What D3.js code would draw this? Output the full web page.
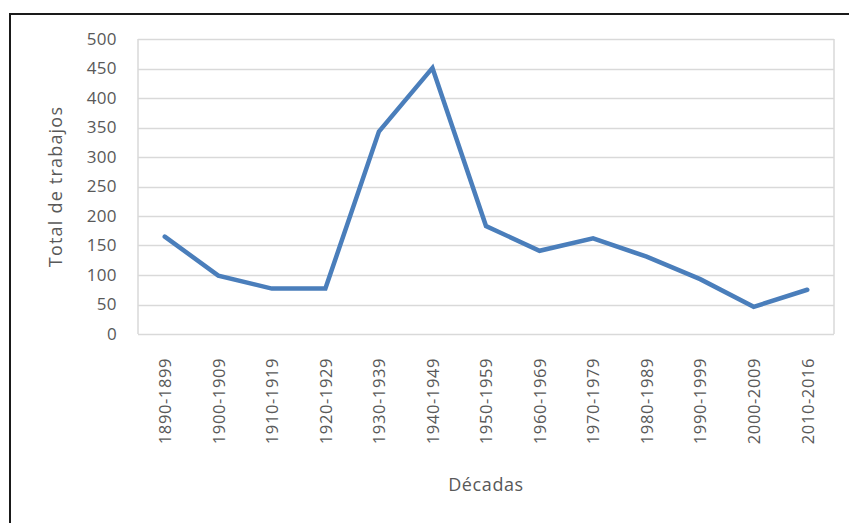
<!DOCTYPE html>
<html>
<head>
<meta charset="utf-8">
<script src="https://cdn.jsdelivr.net/npm/d3@7"></script>
<style>
  body { margin: 0; background: #fff; }
  text { font-family: "Open Sans", sans-serif; fill: #595959; }
</style>
</head>
<body>
<div id="chart"></div>
<script>
var decadas = ["1890-1899", "1900-1909", "1910-1919", "1920-1929", "1930-1939",
	"1940-1949", "1950-1959", "1960-1969", "1970-1979", "1980-1989",
	"1990-1999", "2000-2009", "2010-2016"];
var trabajos = [165, 99, 77, 77, 343, 451, 183, 141, 162, 131, 93, 46, 75];
var yTicks = [0, 50, 100, 150, 200, 250, 300, 350, 400, 450, 500];

var size = { width: 849, height: 523 };
var plot = { left: 138, right: 834, top: 39, bottom: 334 };

var svg = d3.select("#chart")
	.append("svg")
	.attr("width", size.width)
	.attr("height", size.height);

// outer frame (only top and left are visible in the picture)
svg.append("path")
	.attr("d", "M10," + size.height + "V14H" + size.width)
	.attr("fill", "none")
	.attr("stroke", "#1a1a1a")
	.attr("stroke-width", 2);

var x = d3.scalePoint()
	.domain(decadas)
	.range([plot.left, plot.right])
	.padding(0.5);

var y = d3.scaleLinear()
	.domain([0, 500])
	.range([plot.bottom, plot.top]);

// grid lines
svg.append("g")
	.selectAll("line")
	.data(yTicks)
	.join("line")
	.attr("x1", plot.left)
	.attr("x2", plot.right)
	.attr("y1", function(d) { return Math.round(y(d)) + 0.5; })
	.attr("y2", function(d) { return Math.round(y(d)) + 0.5; })
	.attr("stroke", "#d9d9d9")
	.attr("stroke-width", 1.5);

// plot area sides
svg.append("g")
	.selectAll("line")
	.data([plot.left, plot.right])
	.join("line")
	.attr("x1", function(d) { return d; })
	.attr("x2", function(d) { return d; })
	.attr("y1", plot.top)
	.attr("y2", plot.bottom)
	.attr("stroke", "#d9d9d9")
	.attr("stroke-width", 1.5);

// y axis labels
var yAxis = d3.axisLeft(y).tickValues(yTicks).tickSize(0).tickPadding(21);
svg.append("g")
	.attr("transform", "translate(" + plot.left + ",0)")
	.call(yAxis)
	.call(function(g) { g.select(".domain").remove(); })
	.selectAll("text")
	.attr("font-family", "Open Sans")
	.attr("font-size", 17)
	.attr("letter-spacing", 0.4)
	.attr("fill", "#595959");

// x axis labels, rotated
var xAxis = d3.axisBottom(x).tickSize(0).tickPadding(0);
svg.append("g")
	.attr("transform", "translate(0," + plot.bottom + ")")
	.call(xAxis)
	.call(function(g) { g.select(".domain").remove(); })
	.selectAll("text")
	.attr("font-family", "Open Sans")
	.attr("font-size", 16.5)
	.attr("fill", "#595959")
	.attr("text-anchor", "end")
	.attr("dy", "0.35em")
	.attr("transform", "translate(0,24) rotate(-90)")
	.attr("y", 0)
	.attr("x", 0)
	.attr("letter-spacing", 0.6);

// the line
var line = d3.line()
	.x(function(d, i) { return x(decadas[i]); })
	.y(function(d) { return y(d); });

svg.append("path")
	.datum(trabajos)
	.attr("d", line)
	.attr("fill", "none")
	.attr("stroke", "#4a7ebb")
	.attr("stroke-width", 4.5)
	.attr("stroke-linejoin", "miter")
	.attr("stroke-linecap", "round");

// axis titles
svg.append("text")
	.attr("x", (plot.left + plot.right) / 2)
	.attr("y", 491)
	.attr("text-anchor", "middle")
	.attr("font-size", 18)
	.attr("letter-spacing", 0.6)
	.text("Décadas");

svg.append("text")
	.attr("transform", "translate(62," + ((plot.top + plot.bottom) / 2) + ") rotate(-90)")
	.attr("text-anchor", "middle")
	.attr("font-size", 18)
	.attr("letter-spacing", 1.2)
	.text("Total de trabajos");
</script>
</body>
</html>
